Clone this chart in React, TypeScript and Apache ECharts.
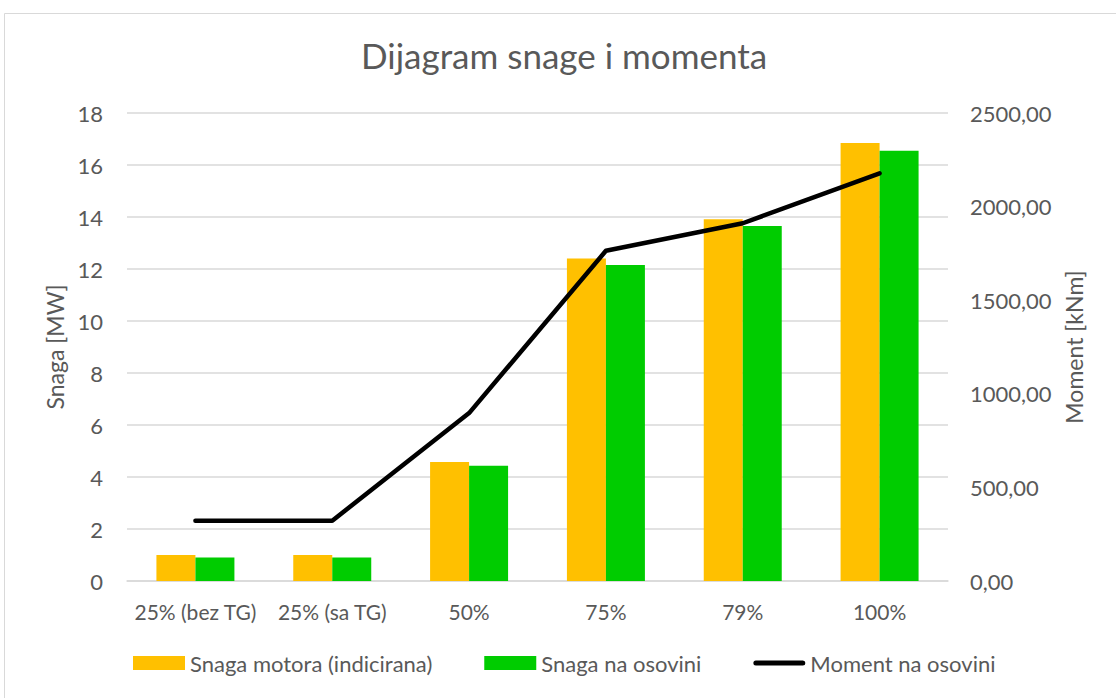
import React, { useEffect, useRef } from "react";
import * as echarts from "echarts";

const categories = ["25% (bez TG)", "25% (sa TG)", "50%", "75%", "79%", "100%"];
const snagaMotora = [1.0, 1.0, 4.58, 12.4, 13.91, 16.85];
const snagaOsovina = [0.9, 0.9, 4.43, 12.15, 13.65, 16.55];
const moment = [322, 322, 897, 1764, 1911, 2178];
const seriesNames = ["Snaga motora (indicirana)", "Snaga na osovini", "Moment na osovini"];

const FONT = "Lato, 'Open Sans', sans-serif";
const TXT = "#595959";

export default function App() {
  const ref = useRef<HTMLDivElement>(null);
  useEffect(() => {
    const chart = echarts.init(ref.current!, null, { renderer: "svg" });
    chart.setOption({
      animation: false,
      backgroundColor: "#fff",
      textStyle: { fontFamily: FONT, color: TXT },
      title: {
        text: "Dijagram snage i momenta",
        left: 356,
        top: 32,
        textStyle: { fontFamily: FONT, fontSize: 35, fontWeight: "normal", color: TXT },
      },
      graphic: [
        {
          type: "rect",
          shape: { x: 4.5, y: 13.5, width: 1120, height: 700 },
          style: { fill: "none", stroke: "#d9d9d9", lineWidth: 1 },
          silent: true,
        },
      ],
      legend: {
        top: 647,
        left: 128,
        itemGap: 52,
        itemWidth: 52,
        itemHeight: 14,
        textStyle: { fontFamily: FONT, fontSize: 22, color: TXT },
        data: [
          { name: seriesNames[0], icon: "rect" },
          { name: seriesNames[1], icon: "rect" },
          {
            name: seriesNames[2],
            icon: "path://M2.5,0 H49.5 A2.5,2.5 0 0 1 49.5,5 H2.5 A2.5,2.5 0 0 1 2.5,0 Z",
          },
        ],
      },
      grid: { left: 127, right: 168, top: 113, bottom: 117 },
      xAxis: {
        type: "category",
        data: categories,
        axisLine: { show: true, lineStyle: { color: "#d9d9d9", width: 1.5 } },
        axisTick: { show: false },
        axisLabel: { fontFamily: FONT, fontSize: 21, color: TXT, margin: 20, interval: 0 },
      },
      yAxis: [
        {
          type: "value",
          min: 0,
          max: 18,
          interval: 2,
          name: "Snaga [MW]",
          nameLocation: "middle",
          nameGap: 51,
          nameTextStyle: { fontFamily: FONT, fontSize: 23, color: TXT },
          axisLine: { show: false },
          axisTick: { show: false },
          axisLabel: { fontFamily: FONT, fontSize: 22, color: TXT, margin: 24 },
          splitLine: { lineStyle: { color: "#d9d9d9", width: 1.5 } },
        },
        {
          type: "value",
          min: 0,
          max: 2500,
          interval: 500,
          name: "Moment [kNm]",
          nameLocation: "middle",
          nameGap: 113,
          nameRotate: 90,
          nameTextStyle: { fontFamily: FONT, fontSize: 23, color: TXT },
          axisLine: { show: false },
          axisTick: { show: false },
          axisLabel: {
            fontFamily: FONT,
            fontSize: 22,
            color: TXT,
            margin: 22,
            formatter: (v: number) => v.toFixed(2).replace(".", ","),
          },
          splitLine: { show: false },
        },
      ],
      series: [
        {
          name: seriesNames[0],
          type: "bar",
          data: snagaMotora,
          itemStyle: { color: "#FFC000" },
          barGap: "0%",
          barCategoryGap: "43%",
        },
        {
          name: seriesNames[1],
          type: "bar",
          data: snagaOsovina,
          itemStyle: { color: "#00CC00" },
          barGap: "0%",
          barCategoryGap: "43%",
        },
        {
          name: seriesNames[2],
          type: "line",
          yAxisIndex: 1,
          data: moment,
          showSymbol: false,
          symbol: "none",
          lineStyle: { color: "#000", width: 4.5, cap: "round", join: "round" },
          itemStyle: { color: "#000" },
        },
      ],
    });
    return () => chart.dispose();
  }, []);
  return <div ref={ref} style={{ width: 1116, height: 698, position: "absolute", left: 0, top: 0 }} />;
}
